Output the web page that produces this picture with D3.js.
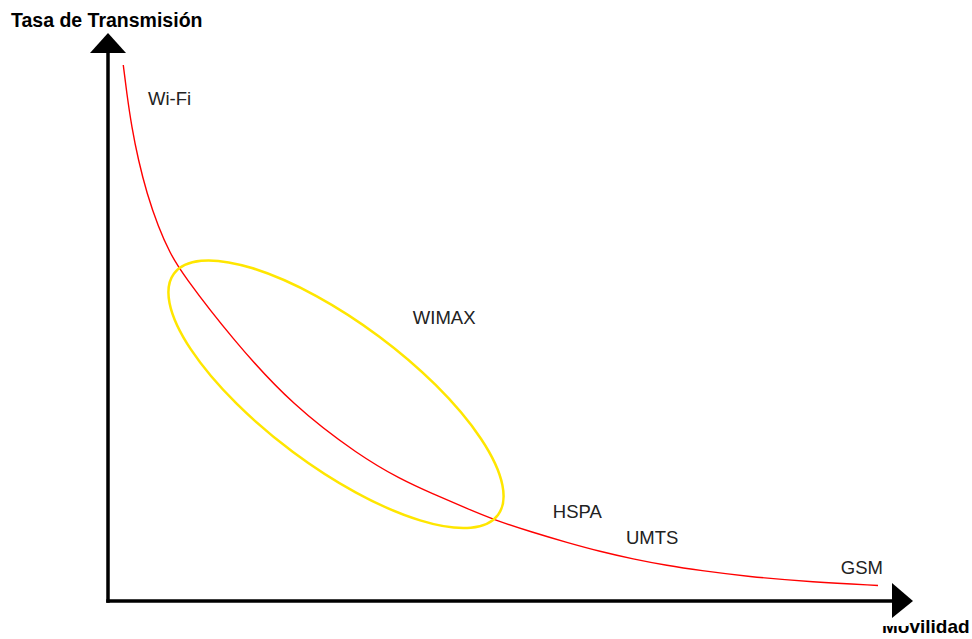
<!DOCTYPE html>
<html><head><meta charset="utf-8">
<script src="https://cdn.jsdelivr.net/npm/d3@7"></script>
<style>html,body{margin:0;padding:0;background:#fff;}svg{display:block;}</style>
</head><body>
<svg id="chart" width="972" height="639"></svg>
<script>
// Curve: Tasa de Transmisión vs Movilidad (relative units 0..100)
const curveX = [1.91, 2.34, 2.96, 3.79, 4.84, 6.29, 7.75, 9.21, 15.63, 23.13, 31.5, 36.5, 40.63, 44.88, 48.13, 53.13, 57.38, 61.5, 65.63, 69.88, 74.0, 79.88, 88.13, 96.25];
const curveY = [97.45, 92.36, 86.18, 80.18, 74.18, 68.0, 63.27, 59.64, 47.45, 35.45, 26.36, 22.18, 19.45, 16.82, 14.82, 12.45, 10.64, 9.0, 7.64, 6.45, 5.55, 4.45, 3.45, 2.82];
// Technology labels
const techNames = ["Wi-Fi", "WIMAX", "HSPA", "UMTS", "GSM"];
const techX = [5.0, 38.1, 55.6, 64.75, 91.6];
const techY = [90.2, 50.4, 15.1, 10.4, 4.9];
// WIMAX ellipse region
const ellipseCenter = [28.5, 37.6];

const svg = d3.select("#chart");
const x = d3.scaleLinear().domain([0, 100]).range([108, 908]);
const y = d3.scaleLinear().domain([0, 100]).range([601, 51]);
const font = "Liberation Sans, Arial, sans-serif";

// axes
svg.append("line").attr("x1", x(0)).attr("y1", y(0) + 1.75).attr("x2", x(0)).attr("y2", 50)
  .attr("stroke", "#000").attr("stroke-width", 3.5);
svg.append("line").attr("x1", x(0) - 1.75).attr("y1", y(0)).attr("x2", 895).attr("y2", y(0))
  .attr("stroke", "#000").attr("stroke-width", 3.5);
svg.append("path").attr("d", `M${x(0)},33 L${x(0) + 18},53 L${x(0) - 18},53 Z`).attr("fill", "#000");

// axis labels
svg.append("text").attr("x", 11).attr("y", 27).text("Tasa de Transmisión")
  .attr("font-family", font).attr("font-weight", "bold")
  .attr("font-size", 19.5).attr("fill", "#000");
svg.append("text").attr("x", 882).attr("y", 633).text("Movilidad")
  .attr("font-family", font).attr("font-weight", "bold")
  .attr("font-size", 19).attr("fill", "#000");
svg.append("rect").attr("x", 878).attr("y", 610).attr("width", 30).attr("height", 16).attr("fill", "#fff");
svg.append("path").attr("d", `M913,${y(0)} L892,${y(0) - 18} L892,${y(0) + 17} Z`).attr("fill", "#000");

// red curve
const pts = curveX.map((d, i) => [d, curveY[i]]);
const line = d3.line().x(d => x(d[0])).y(d => y(d[1])).curve(d3.curveBasis);
svg.append("path").attr("d", line(pts)).attr("fill", "none").attr("stroke", "#ff0000").attr("stroke-width", 1.4);

// yellow ellipse
svg.append("ellipse")
  .attr("cx", 0).attr("cy", 0).attr("rx", 202).attr("ry", 72)
  .attr("transform", `translate(${x(ellipseCenter[0])},${y(ellipseCenter[1])}) rotate(36.7)`)
  .attr("fill", "none").attr("stroke", "#ffe600").attr("stroke-width", 2.5);

// tech labels
svg.selectAll("text.tech").data(techNames).enter().append("text").attr("class", "tech")
  .attr("x", (d, i) => x(techX[i])).attr("y", (d, i) => y(techY[i]))
  .text(d => d)
  .attr("font-family", font).attr("font-size", 18.5).attr("fill", "#222");
</script>
</body></html>
